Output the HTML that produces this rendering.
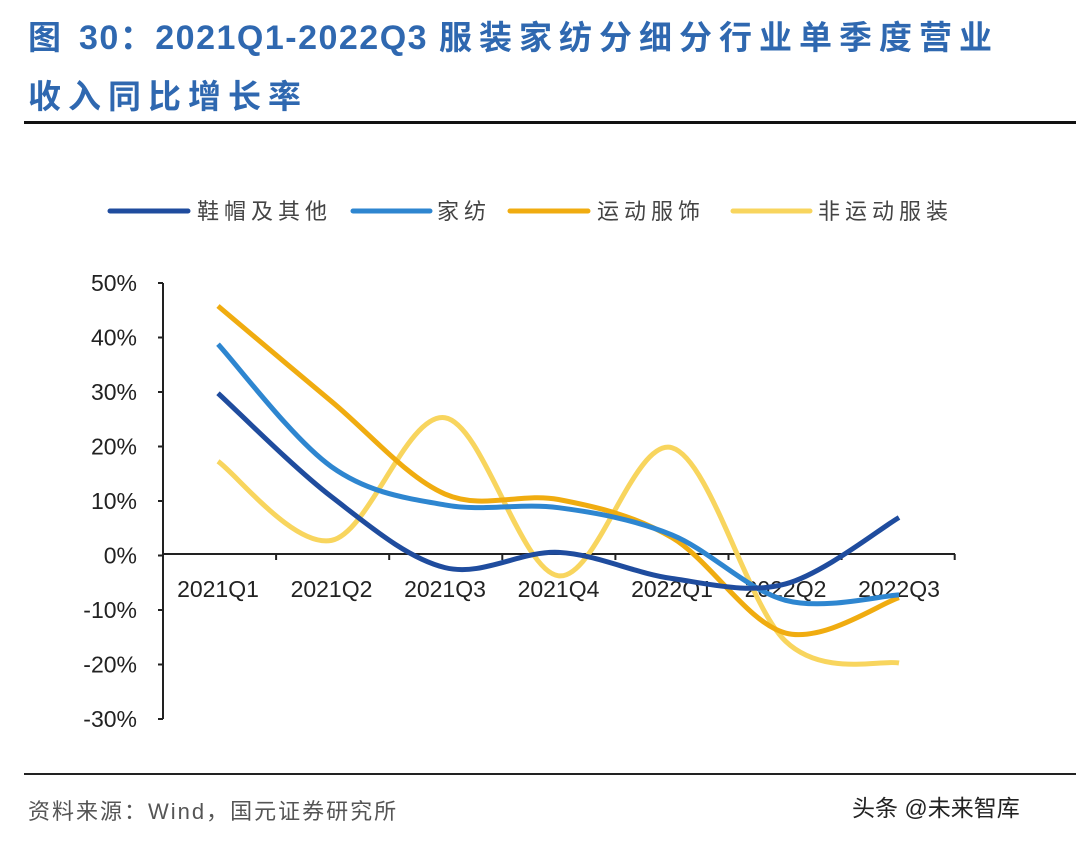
<!DOCTYPE html>
<html><head><meta charset="utf-8"><style>
body{margin:0;width:1076px;height:842px;background:#fff;overflow:hidden;position:relative;font-family:"Liberation Sans","Noto Sans CJK SC",sans-serif}
.t{position:absolute;left:28px;color:#2f68b0;font-weight:bold;font-size:34px;letter-spacing:1.5px;white-space:nowrap}
.c{font-size:33px;letter-spacing:7px}
</style></head><body>
<div class="t" style="top:10px"><span class="c">图</span> 30：2021Q1-2022Q3 <span class="c">服装家纺分细分行业单季度营业</span></div>
<div class="t" style="top:70px"><span class="c">收入同比增长率</span></div>
<div style="position:absolute;left:24px;top:121px;width:1052px;height:3px;background:#111"></div>
<div style="position:absolute;left:24px;top:773px;width:1052px;height:2px;background:#222"></div>
<div style="position:absolute;left:28px;top:794px;font-size:22px;color:#555;letter-spacing:2px">资料来源：Wind，国元证券研究所</div>
<div style="position:absolute;left:852px;top:789px;font-size:23px;color:#222">头条 @未来智库</div>
<svg id="s" width="1076" height="842" style="position:absolute;left:0;top:0" font-family="Liberation Sans, Noto Sans CJK SC, sans-serif">
<g stroke-width="5" stroke-linecap="round">
<line x1="110" y1="211" x2="188" y2="211" stroke="#1f4c9e"/>
<line x1="353" y1="211" x2="430" y2="211" stroke="#2e86d0"/>
<line x1="510" y1="211" x2="588" y2="211" stroke="#f0ac10"/>
<line x1="733" y1="211" x2="810" y2="211" stroke="#f8d55e"/>
</g>
<g font-size="22" fill="#444" letter-spacing="5">
<text x="197" y="219">鞋帽及其他</text><text x="437" y="219">家纺</text>
<text x="597" y="219">运动服饰</text><text x="818" y="219">非运动服装</text>
</g>
<g stroke="#222" stroke-width="2">
<line x1="163" y1="283" x2="163" y2="719"/><line x1="163" y1="554" x2="955" y2="554"/>
</g>
<g id="ax" font-size="23" fill="#222"></g>
<g id="ln" fill="none" stroke-width="5"></g>
</svg>
<script>
var ax=document.getElementById('ax'),ln=document.getElementById('ln'),h='';
for(var i=0;i<9;i++){var v=50-10*i,y=283+i*54.5;h+='<text x="137" y="'+(y+8)+'" text-anchor="end">'+v+'%</text><line x1="158" x2="163" y1="'+y+'" y2="'+y+'" stroke="#222" stroke-width="2"/>';}
var cats=['2021Q1','2021Q2','2021Q3','2021Q4','2022Q1','2022Q2','2022Q3'],X=[];
for(var i=0;i<7;i++){X.push(218+i*113.5);h+='<text x="'+X[i]+'" y="597" text-anchor="middle">'+cats[i]+'</text>';}
for(var i=0;i<8;i++){var x=163+i*113.1;h+='<line x1="'+x+'" x2="'+x+'" y1="554" y2="560" stroke="#222" stroke-width="2"/>';}
ax.innerHTML=h;
function Y(v){return 554-v*5.45;}
var S=[['#f8d55e',[17,2.5,25,-4,19.5,-16,-20]],['#f0ac10',[45.5,28,11,10,3,-14.5,-8]],['#2e86d0',[38.5,16,9,8.5,3.5,-8.5,-7.5]],['#1f4c9e',[29.5,10.5,-2.5,0.3,-4.5,-5.5,6.7]]];
var g='';
S.forEach(function(s){var p=s[1].map(function(v,i){return[X[i],Y(v)]});var d='M'+p[0];
for(var i=0;i<6;i++){var p0=p[Math.max(i-1,0)],p1=p[i],p2=p[i+1],p3=p[Math.min(i+2,6)];
d+=' C'+(p1[0]+(p2[0]-p0[0])/6)+','+(p1[1]+(p2[1]-p0[1])/6)+' '+(p2[0]-(p3[0]-p1[0])/6)+','+(p2[1]-(p3[1]-p1[1])/6)+' '+p2;}
g+='<path d="'+d+'" stroke="'+s[0]+'"/>';});
ln.innerHTML=g;
</script>
</body></html>
